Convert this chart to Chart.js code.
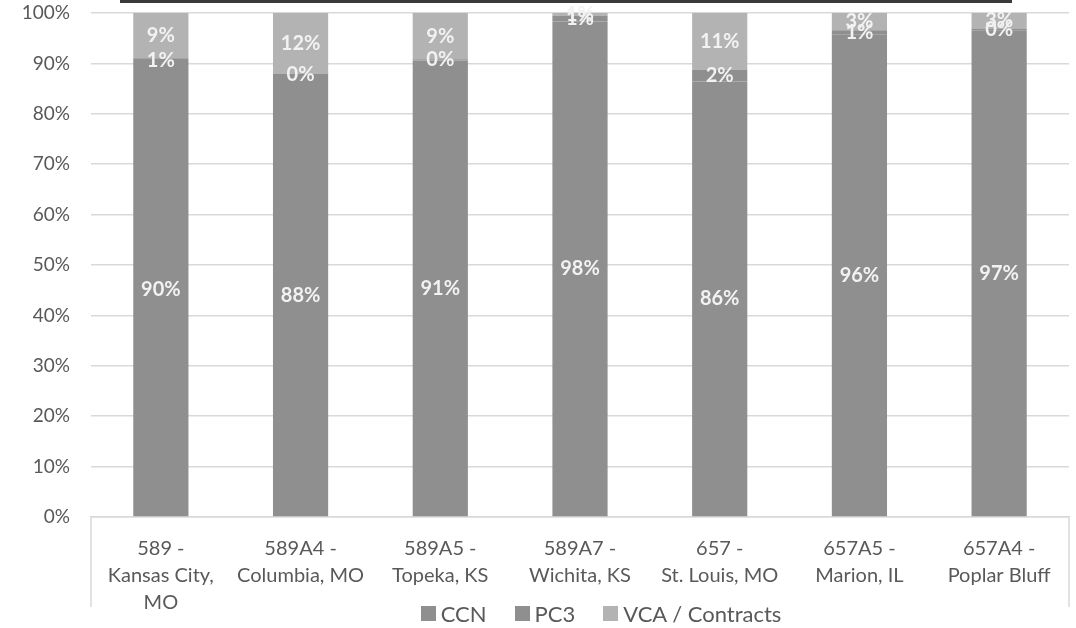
<!DOCTYPE html>
<html>
<head>
<meta charset="utf-8">
<script src="https://cdn.jsdelivr.net/npm/chart.js@4.4.1/dist/chart.umd.min.js"></script>
<style>
    html, body { margin: 0; padding: 0; background: #fff; overflow: hidden; }
    #wrap { position: relative; width: 1076px; height: 628px; }
    #topRule { position: absolute; left: 120px; top: 0; width: 892px; height: 3px; background: #3a3a3a; }
    #legend {
        position: absolute; left: 63px; top: 599px; width: 1076px; height: 28px;
        display: flex; justify-content: center; align-items: center;
        font-family: Lato, 'Open Sans', sans-serif; font-size: 22px; color: #595959;
    }
    #legend .item { display: flex; align-items: center; margin: 0 14px; }
    #legend .box { width: 15px; height: 15px; margin-right: 5px; }
</style>
</head>
<body>
<div id="wrap">
    <canvas id="facilityChart" width="1076" height="628"></canvas>
    <div id="topRule"></div>
    <div id="legend"></div>
</div>
<script>
const categories = [
    ['589 -', 'Kansas City,', 'MO'],
    ['589A4 -', 'Columbia, MO'],
    ['589A5 -', 'Topeka, KS'],
    ['589A7 -', 'Wichita, KS'],
    ['657 -', 'St. Louis, MO'],
    ['657A5 -', 'Marion, IL'],
    ['657A4 -', 'Poplar Bluff']
];

// shares in percent (labels are the rounded values)
const ccnValues = [90.1, 87.7, 90.6, 98.3, 86.4, 95.8, 96.6];
const pc3Values = [0.9, 0.3, 0.2, 1.2, 2.4, 0.8, 0.3];
const vcaValues = [9.0, 12.0, 9.2, 0.5, 11.2, 3.4, 3.1];

const yTicks = [0, 10, 20, 30, 40, 50, 60, 70, 80, 90, 100];

const fontFamily = "Lato, 'Open Sans', sans-serif";
const textGray = '#595959';
const darkBar = '#8f8f8f';
const lightBar = '#b3b3b3';

// white value labels centred in each segment
const segmentLabels = {
    id: 'segmentLabels',
    afterDatasetsDraw(chart) {
        const ctx = chart.ctx;
        ctx.save();
        ctx.font = 'bold 20px ' + fontFamily;
        ctx.fillStyle = '#f2f2f2';
        ctx.textAlign = 'center';
        ctx.textBaseline = 'middle';
        chart.data.datasets.forEach((ds, di) => {
            const meta = chart.getDatasetMeta(di);
            meta.data.forEach((bar, i) => {
                const p = bar.getProps(['x', 'y', 'base'], true);
                ctx.fillText(Math.round(ds.data[i]) + '%', p.x, (p.y + p.base) / 2);
            });
        });
        ctx.restore();
    }
};

// side lines of the category axis box
const axisBox = {
    id: 'axisBox',
    afterDraw(chart) {
        const ctx = chart.ctx;
        const area = chart.chartArea;
        ctx.save();
        ctx.strokeStyle = '#d9d9d9';
        ctx.lineWidth = 1.5;
        ctx.beginPath();
        ctx.moveTo(area.left, area.bottom);
        ctx.lineTo(area.left, area.bottom + 90);
        ctx.moveTo(area.right, area.bottom);
        ctx.lineTo(area.right, area.bottom + 90);
        ctx.stroke();
        ctx.restore();
    }
};

const config = {
    type: 'bar',
    data: {
        labels: categories,
        datasets: [{
            label: 'CCN',
            data: ccnValues,
            backgroundColor: darkBar,
        }, {
            label: 'PC3',
            data: pc3Values,
            backgroundColor: darkBar,
        }, {
            label: 'VCA / Contracts',
            data: vcaValues,
            backgroundColor: lightBar,
        }],
    },
    options: {
        responsive: false,
        animation: false,
        layout: {
            padding: { top: 13, right: 7, left: 0, bottom: 0 }
        },
        datasets: {
            bar: {
                barPercentage: 0.395,
                categoryPercentage: 1,
            }
        },
        plugins: {
            tooltip: { enabled: false },
            legend: { display: false }
        },
        scales: {
            x: {
                stacked: true,
                grid: { display: false, drawTicks: false },
                border: { display: true, color: '#d9d9d9', width: 1.5 },
                ticks: {
                    color: textGray,
                    padding: 18,
                    maxRotation: 0,
                    autoSkip: false,
                    font: { family: fontFamily, size: 20, lineHeight: 1.35 },
                },
                afterFit(scale) { scale.height = 111; }
            },
            y: {
                stacked: true,
                min: 0,
                max: 100,
                afterBuildTicks(scale) { scale.ticks = yTicks.map(v => ({ value: v })); },
                grid: { color: '#d9d9d9', lineWidth: 1.5, drawTicks: true, tickLength: 21, tickColor: 'rgba(0,0,0,0)' },
                border: { display: false },
                ticks: {
                    color: textGray,
                    padding: 0,
                    font: { family: fontFamily, size: 19 },
                    callback: v => v + '%',
                },
                afterFit(scale) { scale.width = 91; }
            }
        }
    },
    plugins: [segmentLabels, axisBox]
};

const chart = new Chart(document.getElementById('facilityChart'), config);

// legend built from the datasets
const legendEl = document.getElementById('legend');
chart.data.datasets.forEach(ds => {
    const item = document.createElement('span');
    item.className = 'item';
    const box = document.createElement('span');
    box.className = 'box';
    box.style.background = ds.backgroundColor;
    item.appendChild(box);
    item.appendChild(document.createTextNode(ds.label));
    legendEl.appendChild(item);
});
</script>
</body>
</html>
